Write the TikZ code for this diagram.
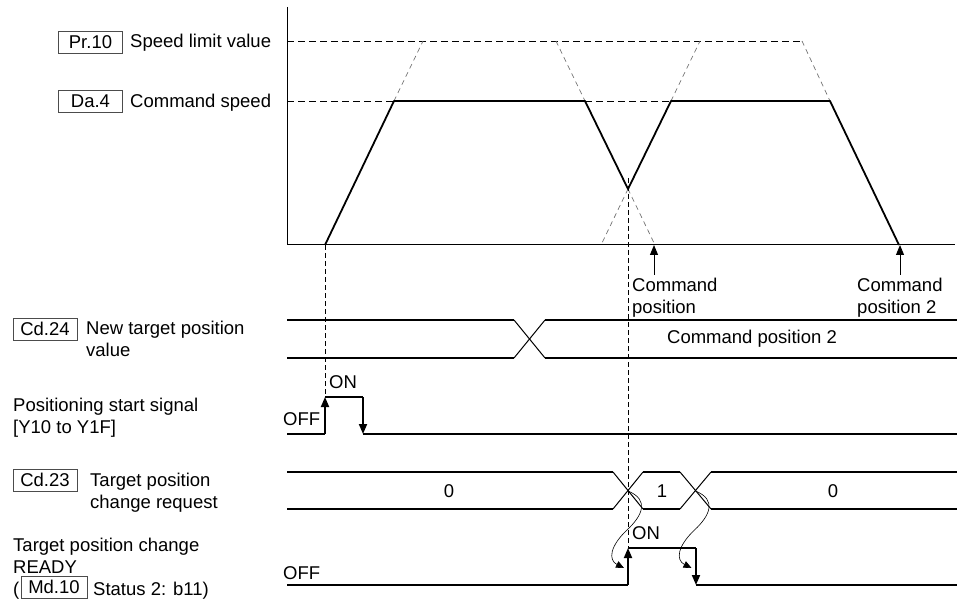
\documentclass[tikz,border=0pt]{standalone}
\usepackage{fontspec}
\setmainfont{Liberation Sans}
\usetikzlibrary{arrows.meta}

\tikzset{
	reg/.style={draw=black!70, line width=0.8pt, minimum width=64pt, minimum height=22pt, inner sep=0pt},
	lbl/.style={anchor=base west, align=left, inner sep=0pt},
	sig/.style={line width=1.8pt},
	tip/.style={-{Triangle[length=10pt,width=8pt]}},
	lim/.style={line width=0.9pt, dash pattern=on 7pt off 4pt},
	slope/.style={black!55, line width=0.7pt, dash pattern=on 5pt off 4pt},
	vguide/.style={line width=0.9pt, dash pattern=on 5pt off 3pt},
}

\begin{document}
\begin{tikzpicture}[x=1pt, y=-1pt, font=\fontsize{18.5}{21.5}\selectfont]
	\useasboundingbox (0,0) rectangle (957,601);

	% speed graph
	\draw[line width=1pt] (287,7) -- (287,245) -- (955,245);

	\node[reg] (pr10) at (90.5,42.5){Pr.10};
	\node[lbl] (vlim) at (130,47.6){Speed limit value};
	\node[reg] (da4) at (90.5,101.5){Da.4};
	\node[lbl] (vcmd) at (130,107.6){Command speed};

	\draw[lim] (287,41) -- (802,41);
	\draw[lim] (287,101) -- (394,101);
	\draw[lim] (585,101) -- (671,101);

	\draw[slope] (394,101) -- (423,41);
	\draw[slope] (556,41) -- (585,101);
	\draw[slope] (628,189) -- (655,245);
	\draw[slope] (628,189) -- (601,245);
	\draw[slope] (671,101) -- (700,41);
	\draw[slope] (802,41) -- (830,101);

	\draw[sig, line join=round] (325,245) -- (394,101) -- (585,101) -- (628,189)
		-- (671,101) -- (830,101) -- (899,245);

	%\draw[vguide] (628,189) -- (628,245);
	\node[lbl] (cpos) at (632,313){Command\\position};
	\node[lbl] (cpos2) at (857,313){Command\\position 2};
	\coordinate (cp) at (654,245);
	\coordinate (cp2) at (900,245);
	\draw[line width=1pt, tip] (cp |- cpos.north) ++(0,-3) -- (cp);
	\draw[line width=1pt, tip] (cp2 |- cpos2.north) ++(0,-3) -- (cp2);

	% guides
	\draw[vguide] (325,245) -- (325,397);
	\draw[vguide] (628,178) -- (628,548);

	% Cd.24
	\node[reg] (cd24) at (45,329){Cd.24};
	\node[lbl] (newpos) at (86,356){New target position\\value};
	\draw[sig] (287,320) -- (514,320);
	\draw[sig] (287,358) -- (514,358);
	\draw[sig] (545,320) -- (957,320);
	\draw[sig] (545,358) -- (957,358);
	\draw[line width=1pt] (514,320) -- (545,358);
	\draw[line width=1pt] (514,358) -- (545,320);
	\node (np2) at (752,339){Command position 2};

	% start signal
	\node[lbl] (start) at (13,433){Positioning start signal\\{[Y10 to Y1F]}};
	\node[lbl] (off1) at (283,425.6){OFF};
	\node[lbl] (on1) at (329,388.6){ON};
	\draw[sig] (287,434) -- (325,434);
	\draw[sig, tip] (325,434) -- (325,397);
	\draw[sig] (325,397) -- (363,397);
	\draw[sig, tip] (363,397) -- (363,434);
	\draw[sig] (363,434) -- (957,434);

	% Cd.23
	\node[reg] (cd23) at (45,480){Cd.23};
	\node[lbl] (req) at (90,508){Target position\\change request};
	\draw[sig] (287,472) -- (613,472);
	\draw[sig] (287,509) -- (613,509);
	\draw[sig] (643,472) -- (680,472);
	\draw[sig] (643,509) -- (680,509);
	\draw[sig] (711,472) -- (957,472);
	\draw[sig] (711,509) -- (957,509);
	\draw[line width=1pt] (613,472) -- (643,509);
	\draw[line width=1pt] (613,509) -- (643,472);
	\draw[line width=1pt] (680,472) -- (711,509);
	\draw[line width=1pt] (680,509) -- (711,472);
	\node (r0a) at (449,491){0};
	\node (r1) at (662,491){1};
	\node (r0b) at (833,491){0};

	% READY
	\node[lbl] (ready) at (13,573){Target position change\\READY};
	\node[lbl] (paren) at (13,595){(};
	\node[reg, minimum width=66pt] (md10) at (54,587){Md.10};
	\node[lbl] (stat) at (93,595){Status 2: b11)};
	\node[lbl] (off2) at (283,579){OFF};
	\node[lbl] (on2) at (632,539.6){ON};
	\draw[sig] (287,585) -- (628,585);
	\draw[sig, tip] (628,585) -- (628,548);
	\draw[sig] (628,548) -- (696,548);
	\draw[sig, tip] (696,548) -- (696,585);
	\draw[sig] (696,585) -- (957,585);

	\draw[line width=0.6pt, -{Triangle[length=8pt,width=7pt]}] (628,491) .. controls (650,500) and (642,516) .. (627,530)
		.. controls (610,546) and (608,560) .. (624,568);
	\draw[line width=0.6pt, -{Triangle[length=8pt,width=7pt]}] (695.5,491) .. controls (717.5,500) and (709.5,516) .. (694.5,530)
		.. controls (677.5,546) and (675.5,560) .. (691.5,568);
\end{tikzpicture}
\end{document}
